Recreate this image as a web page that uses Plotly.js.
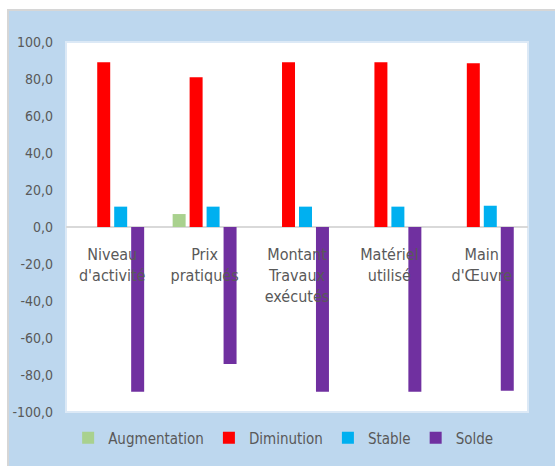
<!DOCTYPE html>
<html>
<head>
<meta charset="utf-8">
<script src="https://cdn.plot.ly/plotly-3.0.1.min.js"></script>
<style>
  html, body { margin: 0; padding: 0; background: #ffffff; width: 555px; height: 466px; overflow: hidden; }
  #frame { position: absolute; left: 7px; top: 9px; width: 548px; height: 457px;
           border-top: 2px solid #d6d6d6; border-left: 2px solid #d6d6d6; background: #BDD7EE; box-sizing: border-box; }
  #chart { position: absolute; left: 9px; top: 11px; width: 546px; height: 455px; }
</style>
</head>
<body>
<div id="frame"></div>
<div id="chart"></div>
<script>
// ---- Data ----
const categories = ["Niveau d'activité", "Prix pratiqués", "Montant Travaux exécutés", "Matériel utilisé", "Main d'Œuvre"];
const categoryLabels = ["Niveau<br>d'activité", "Prix<br>pratiqués", "Montant<br>Travaux<br>exécutés", "Matériel<br>utilisé", "Main<br>d'Œuvre"];
const seriesNames = ["Augmentation", "Diminution", "Stable", "Solde"];
const augmentation = [0, 7, 0, 0, 0];
const diminution = [89, 81, 89, 89, 88.5];
const stable = [11, 11, 11, 11, 11.5];
const solde = [-89, -74, -89, -89, -88.5];
const yTickVals = [-100, -80, -60, -40, -20, 0, 20, 40, 60, 80, 100];
const yTickText = ["-100,0", "-80,0", "-60,0", "-40,0", "-20,0", "0,0", "20,0", "40,0", "60,0", "80,0", "100,0"];

const colors = ["#A9D18E", "#FF0000", "#00B0F0", "#7030A0"];
const values = [augmentation, diminution, stable, solde];

const FONT = "'DejaVu Sans Condensed', 'Liberation Sans Narrow', 'Roboto', sans-serif";

const traces = values.map((v, i) => ({
  type: 'bar',
  name: seriesNames[i],
  x: categories,
  y: v,
  marker: { color: colors[i], line: { width: 0 } },
  hoverinfo: 'x+y+name'
}));

const layout = {
  width: 546,
  height: 455,
  margin: { l: 57, r: 27, t: 31, b: 54 },
  paper_bgcolor: 'rgba(0,0,0,0)',
  plot_bgcolor: '#ffffff',
  barmode: 'group',
  bargap: 0.265,
  bargroupgap: 0.235,
  font: { family: FONT, size: 16, color: '#595959' },
  showlegend: true,
  legend: {
    orientation: 'h',
    x: 0.47, xanchor: 'center',
    y: -0.07, yanchor: 'middle',
    font: { family: FONT, size: 15, color: '#595959' },
    bgcolor: 'rgba(0,0,0,0)',
    traceorder: 'normal'
  },
  xaxis: {
    type: 'category',
    categoryorder: 'array',
    categoryarray: categories,
    tickvals: categories,
    ticktext: categoryLabels,
    anchor: 'free',
    position: 0.5,
    showline: false,
    showgrid: false,
    zeroline: false,
    ticks: '',
    ticklabelstandoff: 16,
    tickfont: { family: FONT, size: 16, color: '#595959' },
    fixedrange: true
  },
  yaxis: {
    range: [-100, 100],
    tickvals: yTickVals,
    ticktext: yTickText,
    showgrid: false,
    zeroline: true,
    zerolinecolor: '#d9d9d9',
    zerolinewidth: 2,
    showline: false,
    ticks: '',
    ticklabelstandoff: 12,
    tickfont: { family: FONT, size: 14, color: '#595959' },
    fixedrange: true
  },
  shapes: [{
    type: 'rect', xref: 'paper', yref: 'paper', x0: 0, x1: 1, y0: 0, y1: 1,
    line: { color: '#dce9f6', width: 2 }, layer: 'below'
  }]
};

Plotly.newPlot('chart', traces, layout, { displayModeBar: false, staticPlot: true });
</script>
</body>
</html>
